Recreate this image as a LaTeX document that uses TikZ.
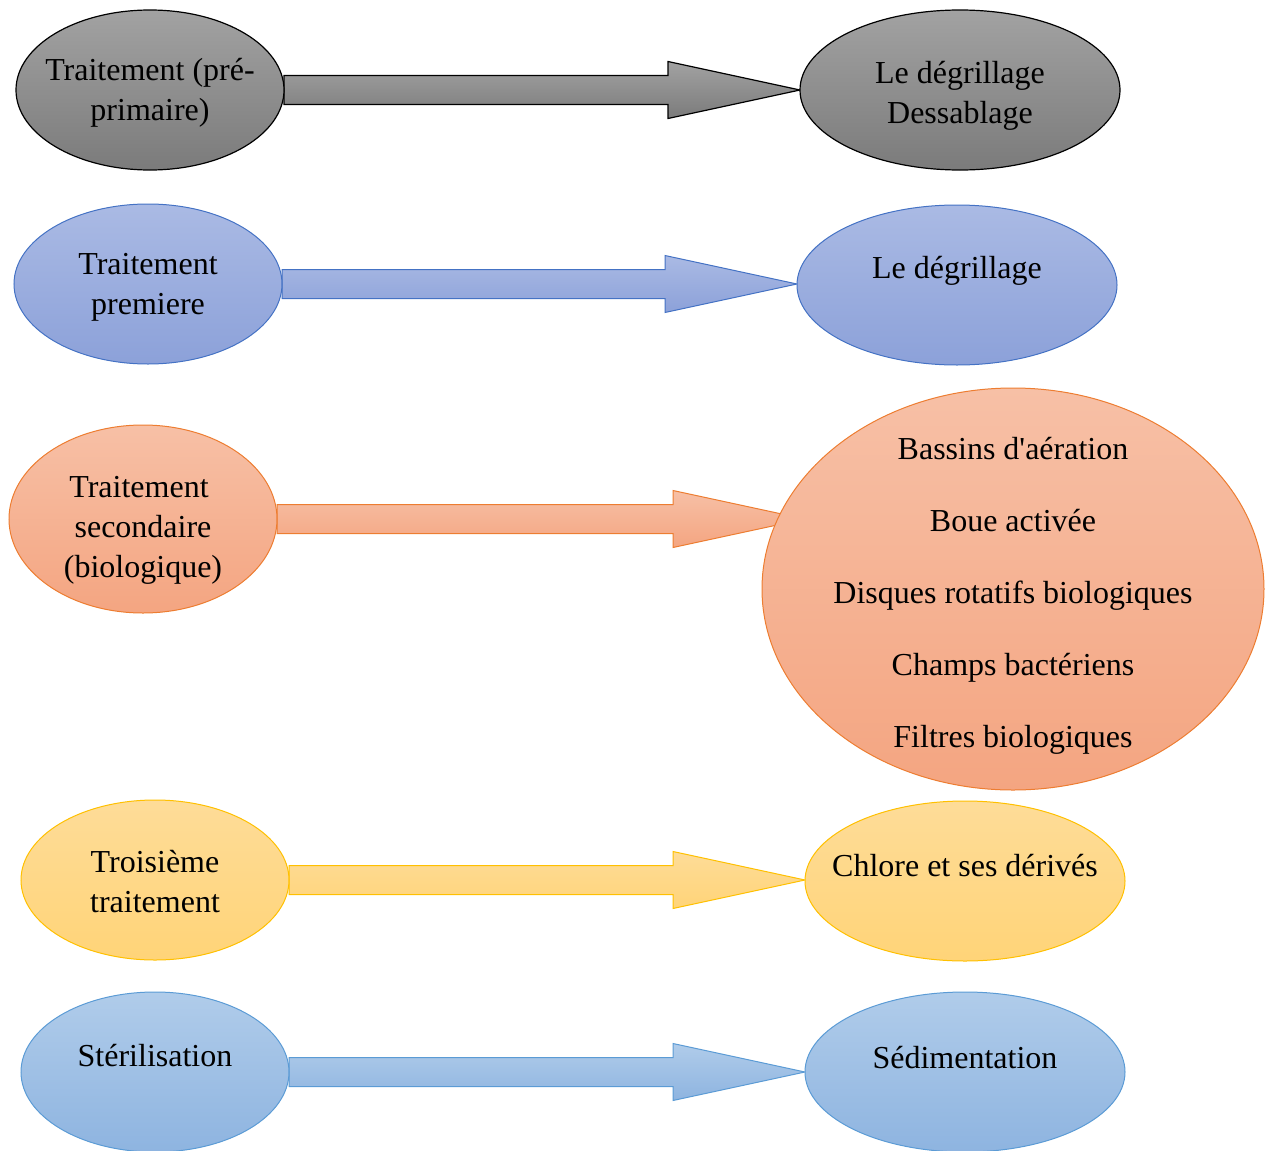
\documentclass[tikz,border=0pt]{standalone}
\usepackage{fontspec}
\setmainfont{Liberation Serif}
\usetikzlibrary{shapes.geometric,calc,backgrounds}

\definecolor{grisH}{HTML}{A2A2A2}
\definecolor{grisB}{HTML}{7B7B7B}
\definecolor{bleuH}{HTML}{AABAE4}
\definecolor{bleuB}{HTML}{8CA1D9}
\definecolor{bleuT}{HTML}{4472C4}
\definecolor{orangeH}{HTML}{F7C0A6}
\definecolor{orangeB}{HTML}{F4A581}
\definecolor{orangeT}{HTML}{ED7D31}
\definecolor{jauneH}{HTML}{FEDC98}
\definecolor{jauneB}{HTML}{FFD478}
\definecolor{jauneT}{HTML}{FFC000}
\definecolor{cielH}{HTML}{B0CCEA}
\definecolor{cielB}{HTML}{8EB4E0}
\definecolor{cielT}{HTML}{5B9BD5}

% fleche pleine : #1 depart, #2 pointe, #3 style
\newcommand{\fleche}[3]{%
  \path[#3] let \p1=(#1), \p2=(#2) in
    (\x1,\y1+7.25pt) -- (\x2-66pt,\y1+7.25pt) -- (\x2-66pt,\y1+14.25pt)
    -- (\x2,\y1) -- (\x2-66pt,\y1-14.25pt) -- (\x2-66pt,\y1-7.25pt)
    -- (\x1,\y1-7.25pt) -- cycle;}

\begin{document}
\begin{tikzpicture}[x=0.5pt,y=-0.5pt,
    every label/.style={align=center,font=\fontsize{16}{20}\selectfont},
    etape/.style={ellipse,minimum width=134pt,minimum height=80pt,
      inner sep=0pt,outer sep=0pt},
    cible/.style={etape,minimum width=160pt},
    gris/.style={top color=grisH,bottom color=grisB,draw=black,line width=0.6pt},
    bleu/.style={top color=bleuH,bottom color=bleuB,draw=bleuT,line width=0.5pt},
    orange/.style={top color=orangeH,bottom color=orangeB,draw=orangeT,line width=0.5pt},
    jaune/.style={top color=jauneH,bottom color=jauneB,draw=jauneT,line width=0.5pt},
    ciel/.style={top color=cielH,bottom color=cielB,draw=cielT,line width=0.5pt}]
\useasboundingbox (0,0) rectangle (1269,1151);

\node[etape,gris] (pre) at (150,90)
  [label={[yshift=-1.5pt]center:Traitement (pré-\\primaire)}] {};
\node[cible,gris] (degr1) at (960,90)
  [label={[yshift=-3pt]center:Le dégrillage\\Dessablage}] {};

\node[etape,bleu] (prem) at (148,284)
  [label={[yshift=-1.5pt]center:Traitement\\premiere}] {};
\node[cible,bleu] (degr2) at (957,285)
  [label={[yshift=7pt]center:Le dégrillage}] {};

\node[etape,orange,minimum height=94pt] (sec) at (143,519)
  [label={[yshift=-5.5pt]center:\hspace*{-4pt}Traitement\\secondaire\\(biologique)}] {};
\node[etape,orange,minimum width=251pt,minimum height=201pt] (bio) at (1013,589)
  [label={[yshift=-3.5pt]center:Bassins d\textquotesingle aération\\[16pt]Boue activée\\[16pt]Disques rotatifs biologiques\\[16pt]Champs bactériens\\[16pt]Filtres biologiques}] {};
\coordinate (pointe) at ($(sec.east -| bio.west)+(43,0)$);

\node[etape,jaune] (trois) at (155,880)
  [label={[yshift=-1pt]center:Troisième\\traitement}] {};
\node[cible,jaune] (chlore) at (965,881)
  [label={[yshift=7.5pt]center:Chlore et ses dérivés}] {};

\node[etape,ciel] (steril) at (155,1072)
  [label={[yshift=8pt]center:Stérilisation}] {};
\node[cible,ciel] (sedim) at (965,1072)
  [label={[yshift=7pt]center:Sédimentation}] {};

\begin{scope}[on background layer]
\fleche{pre.east}{pre.east -| degr1.west}{gris}
\fleche{prem.east}{prem.east -| degr2.west}{bleu}
\fleche{sec.east}{pointe}{orange}
\fleche{trois.east}{trois.east -| chlore.west}{jaune}
\fleche{steril.east}{steril.east -| sedim.west}{ciel}
\end{scope}
\end{tikzpicture}
\end{document}
